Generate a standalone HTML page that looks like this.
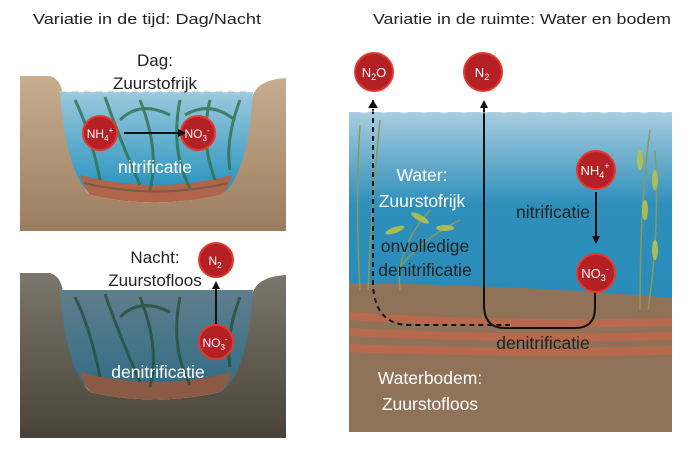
<!DOCTYPE html>
<html><head><meta charset="utf-8"><style>
html,body{margin:0;padding:0;background:#fff}
svg{display:block}
text{font-family:"Liberation Sans",sans-serif}
</style></head><body>
<svg width="700" height="453" viewBox="0 0 700 453" xmlns="http://www.w3.org/2000/svg">
<defs>
<linearGradient id="bankT" x1="0" y1="0" x2="0" y2="1"><stop offset="0" stop-color="#c7ae91"/><stop offset="1" stop-color="#9a7d5e"/></linearGradient>
<linearGradient id="bankB" x1="0" y1="0" x2="0" y2="1"><stop offset="0" stop-color="#7a776d"/><stop offset="1" stop-color="#4a4238"/></linearGradient>
<linearGradient id="wT" x1="0" y1="0" x2="0" y2="1"><stop offset="0" stop-color="#9cc9dc"/><stop offset="1" stop-color="#1f8fbd"/></linearGradient>
<linearGradient id="wB" x1="0" y1="0" x2="0" y2="1"><stop offset="0" stop-color="#5f7f8c"/><stop offset="1" stop-color="#2f6a85"/></linearGradient>
<linearGradient id="wR" x1="0" y1="0" x2="0" y2="1"><stop offset="0" stop-color="#a9cde0"/><stop offset="0.5" stop-color="#2e8fbb"/><stop offset="1" stop-color="#2a8cb9"/></linearGradient>
<marker id="ah" markerWidth="8" markerHeight="8" refX="4" refY="4" orient="auto" markerUnits="userSpaceOnUse"><path d="M0,0 L8,4 L0,8 z" fill="#111"/></marker>
</defs>

<text x="147" y="24" font-size="15" text-anchor="middle" fill="#222" textLength="228" lengthAdjust="spacingAndGlyphs">Variatie in de tijd: Dag/Nacht</text>
<text x="522" y="24" font-size="15" text-anchor="middle" fill="#222" textLength="298" lengthAdjust="spacingAndGlyphs">Variatie in de ruimte: Water en bodem</text>

<!-- top left panel -->
<path d="M20,76 L50,76 Q63,80 63,100 Q70,175 90,195 Q155,210 220,195 Q245,175 252,100 Q254,80 286,78 L286,231 L20,231 Z" fill="url(#bankT)"/>
<path d="M60,92 L253,92 Q248,170 225,192 Q155,205 88,192 Q66,170 60,92 Z" fill="url(#wT)"/>
<path d="M80,175 Q155,195 232,175 Q228,190 220,195 Q155,210 90,195 Q84,188 80,175Z" fill="#b0654a"/>
<path d="M84,183 Q155,200 228,183" stroke="#7c5a45" stroke-width="2" fill="none"/>
<g fill="none" stroke="#2e6f4a" stroke-width="3" opacity="0.8">
<path d="M75,100 Q90,130 100,180 M105,97 Q120,140 140,185 M140,100 Q160,150 150,190 M180,100 Q170,150 190,188 M210,100 Q200,140 215,180 M240,100 Q225,140 230,170 M120,120 Q140,100 170,115 M185,115 Q210,100 235,120"/>
</g>
<path d="M60,92 q3,-2 6,0 t6,0 t6,0 t6,0 t6,0 t6,0 t6,0 t6,0 t6,0 t6,0 t6,0 t6,0 t6,0 t6,0 t6,0 t6,0 t6,0 t6,0 t6,0 t6,0 t6,0 t6,0 t6,0 t6,0 t6,0 t6,0 t6,0 t6,0 t6,0 t6,0 t6,0 t6,0" fill="none" stroke="#b8d7e4" stroke-width="1"/>
<text x="155" y="66" font-size="17" text-anchor="middle" fill="#222">Dag:</text>
<text x="155" y="89" font-size="17" text-anchor="middle" fill="#222">Zuurstofrijk</text>
<circle cx="100" cy="133" r="17" fill="#b52025" stroke="#e23a2e" stroke-width="2"/>
<text x="100" y="138" font-size="12" text-anchor="middle" fill="#fff">NH<tspan font-size="8" dy="3">4</tspan><tspan font-size="8" dy="-8">+</tspan></text>
<circle cx="198" cy="133" r="17" fill="#b52025" stroke="#e23a2e" stroke-width="2"/>
<text x="197" y="138" font-size="12" text-anchor="middle" fill="#fff">NO<tspan font-size="8" dy="3">3</tspan><tspan font-size="8" dy="-8">-</tspan></text>
<line x1="124" y1="133" x2="182" y2="133" stroke="#111" stroke-width="2" marker-end="url(#ah)"/>
<text x="155" y="173" font-size="17.5" text-anchor="middle" fill="#fff">nitrificatie</text>

<!-- bottom left panel -->
<path d="M20,273 L50,273 Q63,277 63,297 Q70,372 90,392 Q155,407 220,392 Q245,372 252,297 Q254,277 286,275 L286,438 L20,438 Z" fill="url(#bankB)"/>
<path d="M60,290 L253,290 Q248,367 225,389 Q155,402 88,389 Q66,367 60,290 Z" fill="url(#wB)"/>
<path d="M80,372 Q155,392 232,372 Q228,387 220,392 Q155,407 90,392 Q84,385 80,372Z" fill="#8a5a45"/>
<g fill="none" stroke="#244f3c" stroke-width="3" opacity="0.8">
<path d="M75,297 Q90,327 100,377 M105,294 Q120,337 140,382 M140,297 Q160,347 150,387 M180,297 Q170,347 190,385 M240,297 Q225,337 230,367 M120,317 Q140,297 170,312"/>
</g>
<text x="155" y="263" font-size="17" text-anchor="middle" fill="#222">Nacht:</text>
<text x="155" y="286" font-size="17" text-anchor="middle" fill="#222">Zuurstofloos</text>
<circle cx="216" cy="260" r="17" fill="#b52025" stroke="#e23a2e" stroke-width="2"/>
<text x="215" y="265" font-size="12" text-anchor="middle" fill="#fff">N<tspan font-size="8" dy="3">2</tspan></text>
<circle cx="216" cy="342" r="17" fill="#b52025" stroke="#e23a2e" stroke-width="2"/>
<text x="215" y="347" font-size="12" text-anchor="middle" fill="#fff">NO<tspan font-size="8" dy="3">3</tspan><tspan font-size="8" dy="-8">-</tspan></text>
<line x1="216" y1="324" x2="216" y2="285" stroke="#111" stroke-width="2" marker-end="url(#ah)"/>
<text x="158" y="378" font-size="17.5" text-anchor="middle" fill="#fff">denitrificatie</text>

<!-- right panel -->
<rect x="349" y="112" width="323" height="320" fill="#8f7257"/>
<path d="M349,112 L672,112 L672,298 Q520,285 349,283 Z" fill="url(#wR)"/>
<path d="M349,312 Q500,322 672,318 L672,326 Q500,330 349,320Z" fill="#b8694d"/>
<path d="M349,328 Q500,336 672,332 L672,340 Q500,344 349,336Z" fill="#b8694d"/>
<path d="M349,344 Q500,350 672,346 L672,355 Q500,358 349,352Z" fill="#b8694d"/>
<g fill="none" stroke="#8a9a5a" stroke-width="1.5">
<path d="M360,290 Q355,200 360,125 M368,290 Q372,200 380,120 M400,290 Q395,250 430,210 M398,270 Q420,240 460,220 M640,310 Q640,200 650,130 M648,310 Q660,230 655,150"/>
</g>
<g fill="#b8c24a" opacity="0.9">
<ellipse cx="395" cy="230" rx="10" ry="3" transform="rotate(-20 395 230)"/>
<ellipse cx="420" cy="218" rx="10" ry="3" transform="rotate(30 420 218)"/>
<ellipse cx="445" cy="228" rx="9" ry="3"/>
<ellipse cx="640" cy="160" rx="3" ry="10"/>
<ellipse cx="655" cy="180" rx="3" ry="10"/>
<ellipse cx="645" cy="210" rx="3" ry="10"/>
<ellipse cx="655" cy="250" rx="3" ry="10"/>
</g>
<path d="M373,100 L373,285 Q375,325 410,325 L510,325" fill="none" stroke="#111" stroke-width="2" stroke-dasharray="5,4"/>
<path d="M373,108 L368,100 L378,100 Z" fill="#111" transform="rotate(180 373 104)"/>
<path d="M595,292 L595,308 Q595,328 575,328 L505,328 Q484,328 484,305 L484,104" fill="none" stroke="#111" stroke-width="2" marker-end="url(#ah)"/>
<line x1="596" y1="192" x2="596" y2="240" stroke="#111" stroke-width="2" marker-end="url(#ah)"/>
<g fill="#fff" opacity="0.5"><path d="M349,112 q5,-3 10,0 t10,0 t10,0 t10,0 t10,0 t10,0 t10,0 t10,0 t10,0 t10,0 t10,0 t10,0 t10,0 t10,0 t10,0 t10,0 t10,0 t10,0 t10,0 t10,0 t10,0 t10,0 t10,0 t10,0 t10,0 t10,0 t10,0 t10,0 t10,0 t10,0 t10,0 t10,0 z"/></g>
<circle cx="374" cy="72" r="19" fill="#b52025" stroke="#e23a2e" stroke-width="2"/>
<text x="374" y="77" font-size="13" text-anchor="middle" fill="#fff">N<tspan font-size="9" dy="3">2</tspan><tspan dy="-3">O</tspan></text>
<circle cx="483" cy="72" r="19" fill="#b52025" stroke="#e23a2e" stroke-width="2"/>
<text x="482" y="77" font-size="13" text-anchor="middle" fill="#fff">N<tspan font-size="9" dy="3">2</tspan></text>
<circle cx="596" cy="170" r="19" fill="#b52025" stroke="#e23a2e" stroke-width="2"/>
<text x="595" y="175" font-size="13" text-anchor="middle" fill="#fff">NH<tspan font-size="9" dy="3">4</tspan><tspan font-size="9" dy="-9">+</tspan></text>
<circle cx="596" cy="273" r="19" fill="#b52025" stroke="#e23a2e" stroke-width="2"/>
<text x="595" y="278" font-size="13" text-anchor="middle" fill="#fff">NO<tspan font-size="9" dy="3">3</tspan><tspan font-size="9" dy="-9">-</tspan></text>
<text x="422" y="181" font-size="17.5" text-anchor="middle" fill="#fff">Water:</text>
<text x="422" y="207" font-size="17.5" text-anchor="middle" fill="#fff">Zuurstofrijk</text>
<text x="553" y="218" font-size="17.5" text-anchor="middle" fill="#222">nitrificatie</text>
<text x="425" y="252" font-size="17.5" text-anchor="middle" fill="#222">onvolledige</text>
<text x="425" y="276" font-size="17.5" text-anchor="middle" fill="#222">denitrificatie</text>
<text x="543" y="349" font-size="17.5" text-anchor="middle" fill="#222">denitrificatie</text>
<text x="430" y="384" font-size="17.5" text-anchor="middle" fill="#fff">Waterbodem:</text>
<text x="430" y="410" font-size="17.5" text-anchor="middle" fill="#fff">Zuurstofloos</text>
</svg>
</body></html>
